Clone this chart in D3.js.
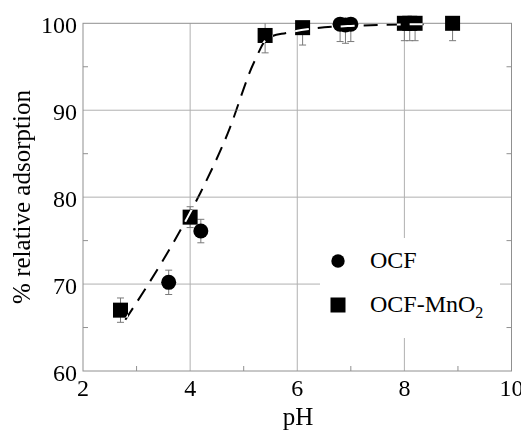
<!DOCTYPE html>
<html><head><meta charset="utf-8">
<script src="https://cdn.jsdelivr.net/npm/d3@7"></script>
<style>
html,body{margin:0;padding:0;background:#fff;}
svg{display:block;}
svg text{font-family:"Liberation Serif", serif !important;}
</style></head>
<body>
<svg id="chart" width="521" height="432"></svg>
<script>
// ---- data ----
const ocfPH  = [3.6, 4.2, 6.8, 6.9, 7.0];
const ocfVal = [70.2, 76.1, 99.9, 99.8, 99.9];
const ocfErr = [1.4, 1.35, 2.0, 2.1, 2.0];

const mnPH  = [2.7, 4.0, 5.4, 6.1, 8.0, 8.1, 8.2, 8.9];
const mnVal = [67.0, 77.7, 98.6, 99.5, 100, 100, 100, 100];
const mnErr = [1.4, 1.2, 2.0, 2.0, 2.0, 2.0, 2.0, 2.0];

const fitPH  = [2.79, 3.2, 3.7, 4.2, 4.7, 5.2, 5.45, 5.8, 6.3, 7.0, 8.4];
const fitVal = [65.9, 69.8, 74.9, 80.6, 87.3, 95.6, 98.3, 98.9, 99.4, 99.7, 99.9];

const xMajor = [2, 4, 6, 8, 10];
const xMinor = [3, 5, 7, 9];
const yMajor = [60, 70, 80, 90, 100];
const yMinor = [65, 75, 85, 95];

const legendLabels = ["OCF", "OCF-MnO"];

// ---- layout ----
const FONT = '"Liberation Serif", serif';
const svg = d3.select("#chart");
const L = 83, T = 23.3, R = 511.5, B = 371;
const x = d3.scaleLinear().domain([2, 10]).range([L, R]);
const y = d3.scaleLinear().domain([60, 100]).range([B, T]);

svg.append("rect").attr("width", 521).attr("height", 432).attr("fill", "#fff");

svg.append("defs").append("clipPath").attr("id", "plotclip")
  .append("rect").attr("x", L).attr("y", T).attr("width", R - L).attr("height", B - T);

// grid
const grid = svg.append("g");
grid.selectAll("line.gx").data(xMajor.slice(1, -1)).join("line")
  .attr("x1", d => x(d)).attr("x2", d => x(d)).attr("y1", T).attr("y2", B)
  .attr("stroke", "#b0b0b0").attr("stroke-width", 1);
grid.selectAll("line.gy").data(yMajor.slice(1, -1)).join("line")
  .attr("y1", d => y(d)).attr("y2", d => y(d)).attr("x1", L).attr("x2", R)
  .attr("stroke", "#b0b0b0").attr("stroke-width", 1);

// minor ticks (inward) on bottom, left, right
const tk = svg.append("g").attr("stroke", "#909090").attr("stroke-width", 1);
tk.selectAll("line.bx").data(xMinor).join("line")
  .attr("x1", d => x(d)).attr("x2", d => x(d)).attr("y1", B).attr("y2", B - 5);
tk.selectAll("line.ly").data(yMinor).join("line")
  .attr("y1", d => y(d)).attr("y2", d => y(d)).attr("x1", L).attr("x2", L + 5);
tk.selectAll("line.ry").data(yMinor).join("line")
  .attr("y1", d => y(d)).attr("y2", d => y(d)).attr("x1", R).attr("x2", R - 5);

// frame
svg.append("rect").attr("x", L).attr("y", T).attr("width", R - L).attr("height", B - T)
  .attr("fill", "none").attr("stroke", "#909090").attr("stroke-width", 1);

// tick labels
svg.append("g").selectAll("text").data(xMajor).join("text")
  .attr("x", d => x(d)).attr("y", 396).attr("text-anchor", "middle")
  .style("font-family", FONT).style("font-size", "24px").attr("fill", "#000").text(d => d);
svg.append("g").selectAll("text").data(yMajor).join("text")
  .attr("x", 77).attr("y", d => y(d) + 10).attr("text-anchor", "end")
  .style("font-family", FONT).style("font-size", "24px").attr("fill", "#000").text(d => d);

// axis titles
svg.append("text").attr("x", 298).attr("y", 425).attr("text-anchor", "middle")
  .style("font-family", FONT).style("font-size", "25px").attr("fill", "#000").text("pH");
svg.append("text").attr("transform", "translate(30,197) rotate(-90)")
  .attr("text-anchor", "middle").style("font-family", FONT).style("font-size", "25px")
  .attr("fill", "#000").text("% relative adsorption");

// error bars
const mnData = mnPH.map((p, i) => ({p, v: mnVal[i], e: mnErr[i]}));
const ocfData = ocfPH.map((p, i) => ({p, v: ocfVal[i], e: ocfErr[i]}));
const eb = svg.append("g").attr("clip-path", "url(#plotclip)")
  .attr("stroke", "#7a7a7a").attr("stroke-width", 1);
function errBars(data) {
  data.forEach(d => {
    const cx = x(d.p);
    eb.append("line").attr("x1", cx).attr("x2", cx)
      .attr("y1", y(d.v - d.e)).attr("y2", y(d.v + d.e));
    [d.v - d.e, d.v + d.e].forEach(vv => {
      eb.append("line").attr("x1", cx - 3.5).attr("x2", cx + 3.5)
        .attr("y1", y(vv)).attr("y2", y(vv));
    });
  });
}
errBars(mnData);
errBars(ocfData);

// markers
const S = 15;
svg.append("g").selectAll("rect").data(mnData).join("rect")
  .attr("x", d => x(d.p) - S / 2).attr("y", d => y(d.v) - S / 2)
  .attr("width", S).attr("height", S).attr("fill", "#000");
svg.append("g").selectAll("circle").data(ocfData).join("circle")
  .attr("cx", d => x(d.p)).attr("cy", d => y(d.v)).attr("r", 7.5).attr("fill", "#000");

// dashed fit line (inverting over markers, like the original)
const fitData = fitPH.map((p, i) => [p, fitVal[i]]);
svg.append("path").datum(fitData)
  .attr("d", d3.line().x(d => x(d[0])).y(d => y(d[1])).curve(d3.curveMonotoneX))
  .attr("fill", "none").attr("stroke", "#fff").attr("stroke-width", 2)
  .attr("stroke-dasharray", "14,9")
  .style("mix-blend-mode", "difference");

// legend
const lg = svg.append("g");
lg.append("rect").attr("x", 320).attr("y", 238).attr("width", 180).attr("height", 100)
  .attr("fill", "#fff");
lg.append("circle").attr("cx", 338).attr("cy", 261).attr("r", 6.7).attr("fill", "#000");
lg.append("text").attr("x", 370).attr("y", 268).style("font-family", FONT)
  .style("font-size", "24px").attr("fill", "#000").text(legendLabels[0]);
lg.append("rect").attr("x", 338 - 7.5).attr("y", 305 - 7.5).attr("width", 15).attr("height", 15)
  .attr("fill", "#000");
const t2 = lg.append("text").attr("x", 370).attr("y", 312).style("font-family", FONT)
  .style("font-size", "24px").attr("fill", "#000");
t2.append("tspan").text(legendLabels[1]);
t2.append("tspan").style("font-size", "16px").attr("dy", 6).text("2");
</script>
</body></html>
